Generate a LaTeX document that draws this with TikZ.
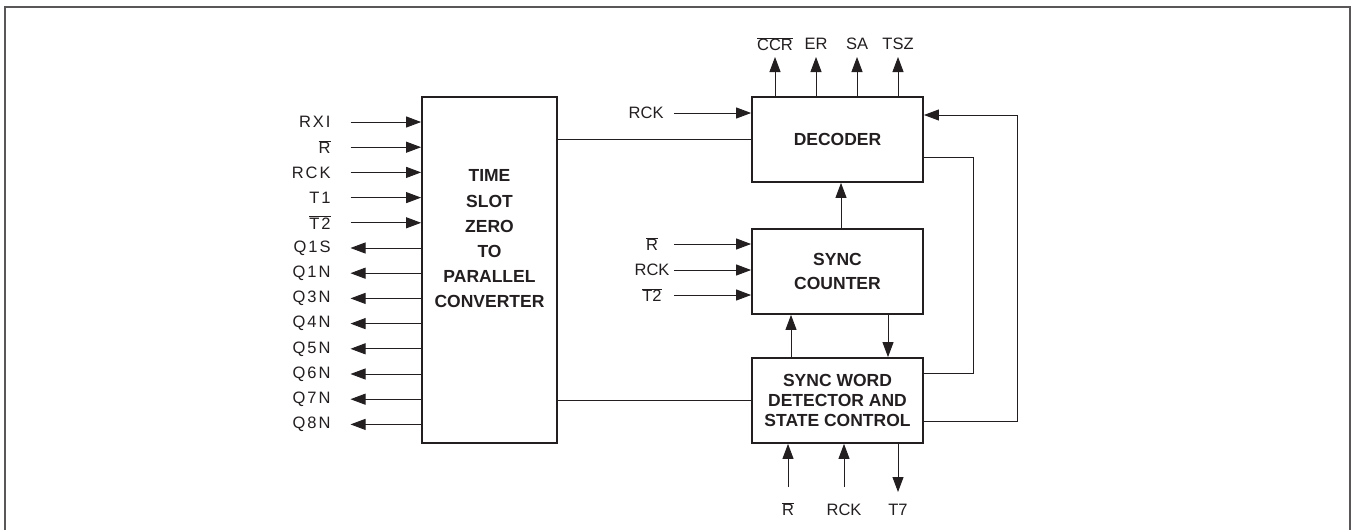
\documentclass[tikz,border=0pt]{standalone}
\usepackage{fontspec}
\setmainfont{Liberation Sans}
\newfontfamily\widefont[LetterSpace=12]{Liberation Sans}
\usetikzlibrary{arrows.meta, positioning}
\definecolor{ink}{RGB}{35,31,32}
\newcommand{\ovl}[1]{$\overline{\mbox{#1}}$}

\begin{document}
\begin{tikzpicture}[x=1pt, y=-1pt, line width=0.9pt,
  every node/.style={text=ink, font=\fontsize{16.5}{19}\selectfont, inner sep=0pt},
  blk/.style={draw=ink, line width=1.8pt, minimum width=171pt, minimum height=85pt, align=center, font=\bfseries\fontsize{17.5}{24}\selectfont},
  btxt/.style={align=center, font=\bfseries\fontsize{17.5}{25.2}\selectfont},
  lbl/.style={font=\widefont\fontsize{16.5}{19}\selectfont},
  sig/.style={draw=ink, -{Triangle[length=15pt,width=11pt]}},
  wire/.style={draw=ink}]
  \useasboundingbox (0,0) rectangle (1356,530);
  % frame
  \coordinate (fbl) at (5,530);
  \coordinate (ftr) at (1350,7);
  \draw[draw=ink!75, line width=1.4pt] (fbl) |- (ftr) -- (ftr |- fbl);

  % blocks
  \node[blk, minimum width=135pt, minimum height=346pt] (tsz) at (489.5,270) {};
  \node[btxt] (tsztxt) at ([yshift=31pt]tsz.center) {TIME\\SLOT\\ZERO\\TO\\PARALLEL\\CONVERTER};
  \node[blk] (dec) at (837.5,139.5) {DECODER};
  \node[blk] (cnt) at (837.5,271.5) {SYNC\\COUNTER};
  \node[blk, font=\bfseries\fontsize{17.5}{20}\selectfont] (swd) at (837.5,400.5) {SYNC WORD\\DETECTOR AND\\STATE CONTROL};

  % left side signals
  \coordinate (lx) at (350.5,0);
  \foreach \i/\nm/\txt in {0/rxi/RXI, 1/rbar/\ovl{R}, 2/rck/RCK, 3/tone/T1, 4/ttwo/\ovl{T2}} {
    \node[lbl, anchor=east] (\nm) at (331,122+25.2*\i) {\txt};
    \draw[sig] (lx |- \nm.east) -- (tsz.west |- \nm.east);
  }
  \foreach \i/\nm/\txt in {5/qas/Q1S, 6/qan/Q1N, 7/qcn/Q3N, 8/qdn/Q4N, 9/qen/Q5N, 10/qfn/Q6N, 11/qgn/Q7N, 12/qhn/Q8N} {
    \node[lbl, anchor=east] (\nm) at (331,122+25.2*\i) {\txt};
    \draw[sig] (tsz.west |- \nm.east) -- (lx |- \nm.east);
  }

  % converter to decoder / detector
  \draw[wire] (tsz.east |- dec.west) -- (dec.west);
  \draw[wire] (tsz.east |- swd.west) -- (swd.west);

  % decoder outputs
  \coordinate (otip) at (0,57);
  \foreach \dx/\nm/\txt in {-62.5/ccr/\ovl{CCR}, -21.5/er/ER, 19.5/sa/SA, 60.5/tsz/TSZ} {
    \node (o\nm) at ([xshift=\dx pt]dec.center |- 0,44) {\txt};
    \draw[sig] (o\nm |- dec.north) -- (o\nm |- otip);
  }

  % decoder clock
  \node[anchor=east] (drck) at (664,113) {RCK};
  \coordinate (dx) at (674,0);
  \draw[sig] (dx |- drck) -- (dec.west |- drck);

  % counter inputs
  \coordinate (cx) at (674,0);
  \node (crb) at (652,244) {\ovl{R}};
  \node (crck) at (652,270) {RCK};
  \node (ctb) at (652,295) {\ovl{T2}};
  \draw[sig] (cx |- 0,244) -- (cnt.west |- 0,244);
  \draw[sig] (cx |- 0,270) -- (cnt.west |- 0,270);
  \draw[sig] (cx |- 0,295) -- (cnt.west |- 0,295);

  % between blocks
  \draw[sig] ([xshift=3.5pt]cnt.north) -- ([xshift=3.5pt]dec.south);
  \draw[sig] ([xshift=-46.5pt]swd.north) -- ([xshift=-46.5pt]cnt.south);
  \draw[sig] ([xshift=50.5pt]cnt.south) -- ([xshift=50.5pt]swd.north);

  % feedback on the right
  \coordinate (fa) at (973,0);
  \coordinate (fb) at (1017,0);
  \draw[wire] ([yshift=-17.5pt]dec.east) -- ([yshift=-17.5pt]dec.east -| fa)
    -- ([yshift=27.5pt]swd.east -| fa) -- ([yshift=27.5pt]swd.east);
  \draw[sig] ([yshift=-20.5pt]swd.east) -- ([yshift=-20.5pt]swd.east -| fb)
    -- ([yshift=24.5pt]dec.east -| fb) -- ([yshift=24.5pt]dec.east);

  % detector bottom
  \coordinate (bin) at (0,487);
  \coordinate (bout) at (0,492);
  \node (brb) at ([xshift=-49.5pt]swd.center |- 0,509) {\ovl{R}};
  \node (brck) at ([xshift=6.5pt]swd.center |- 0,510) {RCK};
  \node (bt) at ([xshift=60.5pt]swd.center |- 0,510) {T7};
  \draw[sig] (brb |- bin) -- (brb |- swd.south);
  \draw[sig] (brck |- bin) -- (brck |- swd.south);
  \draw[sig] (bt |- swd.south) -- (bt |- bout);
\end{tikzpicture}
\end{document}
